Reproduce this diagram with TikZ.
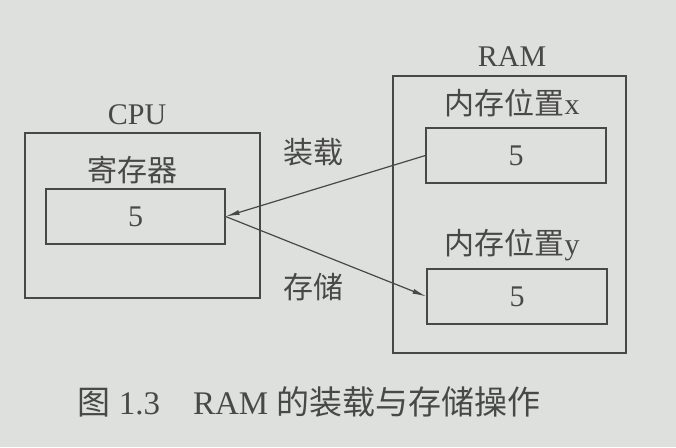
\documentclass[tikz,border=0pt]{standalone}
\usepackage{fontspec}
\setmainfont{Liberation Serif}
\newfontfamily\cjk{Noto Sans CJK SC}
\usetikzlibrary{arrows.meta}
\definecolor{bg}{RGB}{222,224,221}
\definecolor{ink}{RGB}{72,72,72}
\tikzset{
  box/.style={draw=ink, line width=1.2pt, inner sep=0pt},
  lbl/.style={text=ink, inner sep=0pt, font=\fontsize{30}{32}\selectfont},
  captext/.style={text=ink, inner sep=0pt, font=\fontsize{33}{35}\selectfont},
  conn/.style={draw=ink, line width=1.2pt, -{Latex[length=14pt,width=5pt]}}
}
\begin{document}
\begin{tikzpicture}[x=1pt,y=-1pt]
\fill[bg] (0,0) rectangle (676,447);
\useasboundingbox (0,0) rectangle (676,447);
% CPU
\node[box, minimum width=235pt, minimum height=165pt] (cpu) at (142.5,215.5) {};
\node[lbl] (cpulbl) at (137,115) {CPU};
\node[lbl] (reglbl) at (132,170) {\cjk 寄存器};
\node[box, minimum width=179pt, minimum height=55pt, lbl] (reg) at (135.5,216.5) {5};
% RAM
\node[box, minimum width=233pt, minimum height=277pt] (ram) at (509.5,214.5) {};
\node[lbl] (ramlbl) at (512,57) {RAM};
\node[lbl] (xlbl) at (512,103) {{\cjk 内存位置}x};
\node[box, minimum width=180pt, minimum height=55pt, lbl] (bx) at (516,155.5) {5};
\node[lbl] (ylbl) at (512,245) {{\cjk 内存位置}y};
\node[box, minimum width=180pt, minimum height=55pt, lbl] (by) at (517,296.5) {5};
% connectors
\draw[conn] (bx.west) -- (reg.east);
\draw[conn] (reg.east) -- (by.west);
\node[lbl] (load) at (313,152) {\cjk 装载};
\node[lbl] (store) at (313,287) {\cjk 存储};
% caption
\node[captext] (caption) at (309,402) {{\cjk 图} 1.3{\cjk 　}RAM {\cjk 的装载与存储操作}};
\end{tikzpicture}
\end{document}
